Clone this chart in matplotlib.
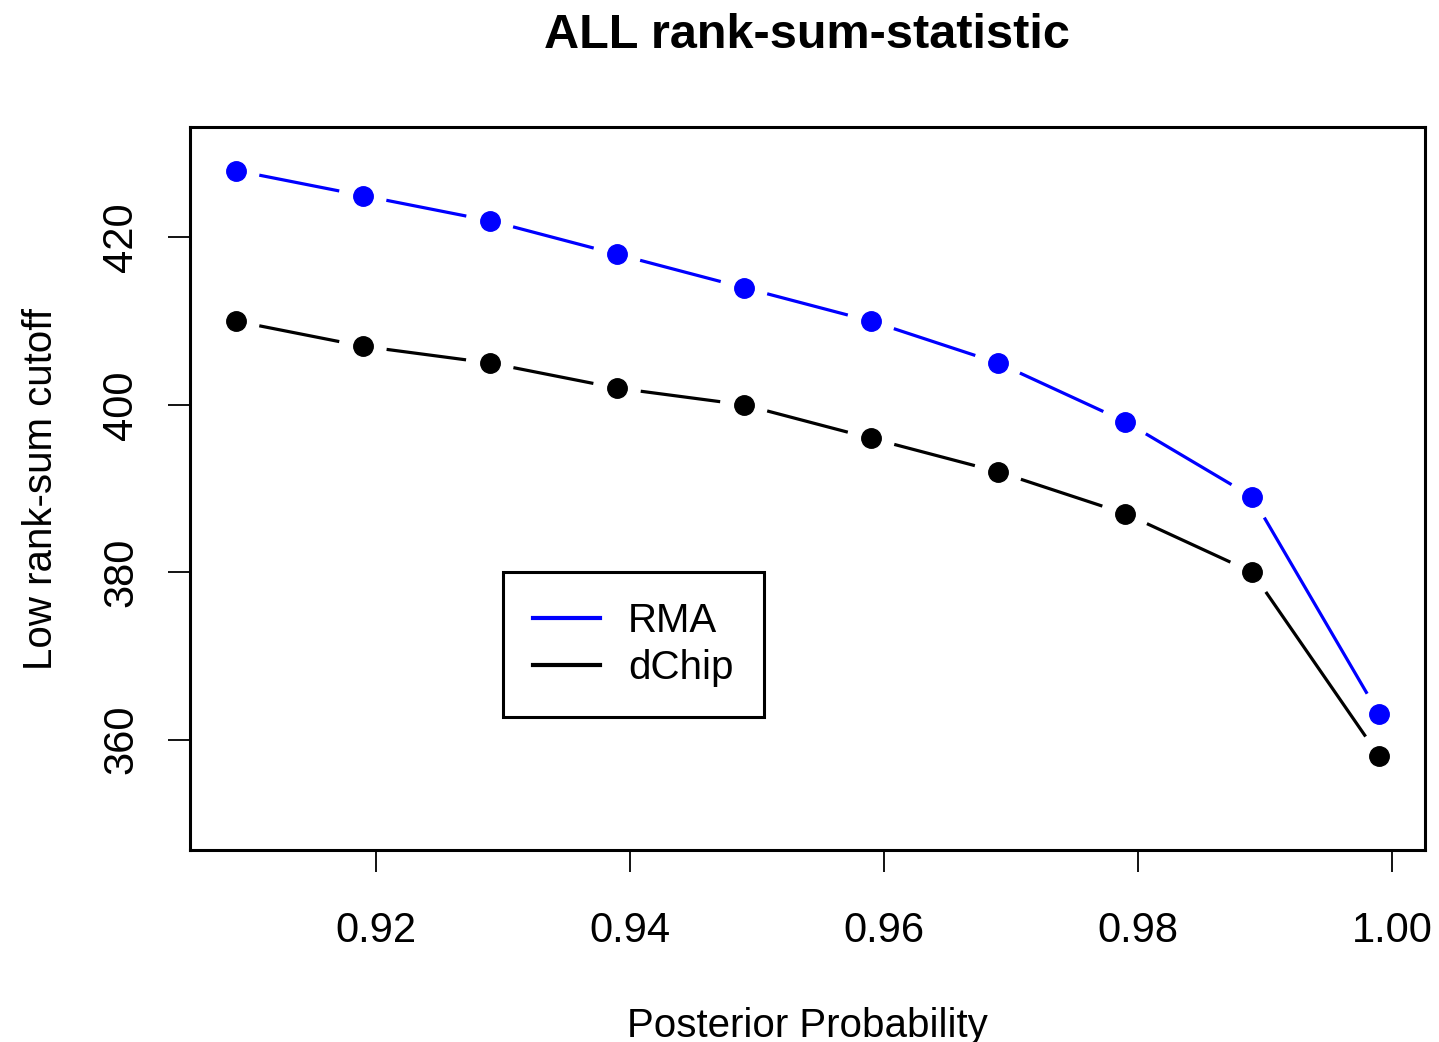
import numpy as np
import matplotlib
matplotlib.use('Agg')
import matplotlib.pyplot as plt

# values
post_prob = [0.909, 0.919, 0.929, 0.939, 0.949, 0.959, 0.969, 0.979, 0.989, 0.999]
rma = [428, 425, 422, 418, 414, 410, 405, 398, 389, 363]
dchip = [410, 407, 405, 402, 400, 396, 392, 387, 380, 358]
series_names = ['RMA', 'dChip']
series_colors = ['#0000ff', '#000000']
x_ticks = [0.92, 0.94, 0.96, 0.98, 1.00]
y_ticks = [360, 380, 400, 420]

plt.rcParams['font.family'] = ['Liberation Sans', 'DejaVu Sans']

fig = plt.figure(figsize=(14.39, 10.42), dpi=100)
ax = fig.add_axes([190/1439, 1 - 850/1042, 1235/1439, 723/1042])

# R-style limits: ylim c(350,430) plus 4% padding
ax.set_xlim(0.909 - 0.0036, 0.999 + 0.0036)
ax.set_ylim(350 - 3.2, 430 + 3.2)


def gapped_line(x, y, color, gap=24):
    # type="b": segments stop short of the points
    tr = ax.transData
    pts = tr.transform(np.column_stack([x, y]))
    for i in range(len(pts) - 1):
        p0, p1 = pts[i], pts[i + 1]
        d = p1 - p0
        L = np.hypot(*d)
        if L <= 2 * gap:
            continue
        u = d / L
        a = tr.inverted().transform(p0 + u * gap)
        b = tr.inverted().transform(p1 - u * gap)
        ax.plot([a[0], b[0]], [a[1], b[1]], color=color, lw=2.3,
                solid_capstyle='butt')
    ax.plot(x, y, 'o', color=color, ms=14, mec=color)


for vals, c in zip([rma, dchip], series_colors):
    gapped_line(post_prob, vals, c)

ax.set_xticks(x_ticks)
ax.set_xticklabels(['%.2f' % v for v in x_ticks])
ax.set_yticks(y_ticks)
ax.set_yticklabels([str(v) for v in y_ticks], rotation=90, va='center')
ax.tick_params(axis='both', length=16, width=1.3, labelsize=30)
ax.tick_params(axis='x', pad=28)
ax.tick_params(axis='y', pad=19)
for s in ax.spines.values():
    s.set_linewidth(2.2)

ax.set_xlabel('Posterior Probability', fontsize=29, labelpad=40)
ax.set_ylabel('Low rank-sum cutoff', fontsize=29, labelpad=30)
fig.text(807/1439, 1 - 35/1042, 'ALL rank-sum-statistic', ha='center',
         va='center', fontsize=35, fontweight='bold')

handles = [plt.Line2D([], [], color=c, lw=3) for c in series_colors]
leg = ax.legend(handles, series_names, loc='upper left',
                bbox_to_anchor=(313/1235, 278/723), borderaxespad=0,
                fontsize=29, fancybox=False, edgecolor='black',
                framealpha=1, handlelength=1.65, borderpad=0.75,
                labelspacing=0.22, handletextpad=0.7)
leg.get_frame().set_linewidth(2.2)

fig.savefig('out.png', dpi=100)
